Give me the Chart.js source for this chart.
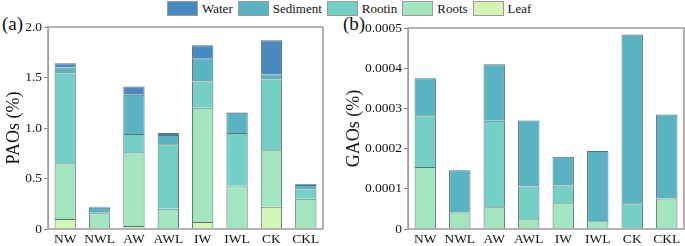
<!DOCTYPE html>
<html>
<head>
<meta charset="utf-8">
<script src="https://cdn.jsdelivr.net/npm/chart.js@4"></script>
<style>
  body { margin: 0; background: #fff; width: 685px; height: 246px; position: relative; overflow: hidden; font-family: "Liberation Serif", "Times New Roman", serif; }
  .panel { position: absolute; top: 0; }
  .tag { position: absolute; top: 14px; font-size: 19px; line-height: 19px; color: #111; }
  #legend { position: absolute; top: 1px; left: 167px; display: flex; align-items: center; font-size: 13px; color: #111; }
  #legend span.box { display: inline-block; width: 29px; height: 13px; border: 0.5px solid #999; margin-right: 4px; }
  #legend span.lab { margin-right: 5px; line-height: 14px; }
</style>
</head>
<body>
<div id="legend"></div>
<div class="tag" style="left:2px">(a)</div>
<div class="tag" style="left:343px">(b)</div>
<canvas id="left" class="panel" style="left:0" width="340" height="246"></canvas>
<canvas id="right" class="panel" style="left:340px" width="345" height="246"></canvas>
<script>
var categories = ['NW', 'NWL', 'AW', 'AWL', 'IW', 'IWL', 'CK', 'CKL'];

// PAOs (%) per compartment, bottom to top
var paoLeaf     = [0.10, 0.005, 0.03, 0.01, 0.07, 0.01, 0.22, 0.01];
var paoRoots    = [0.55, 0.15, 0.73, 0.19, 1.13, 0.42, 0.56, 0.29];
var paoRootin   = [0.89, 0.005, 0.18, 0.64, 0.26, 0.52, 0.70, 0.09];
var paoSediment = [0.06, 0.05, 0.39, 0.09, 0.23, 0.20, 0.05, 0.045];
var paoWater    = [0.04, 0.01, 0.08, 0.02, 0.13, 0.005, 0.34, 0.01];

// GAOs (%)
var gaoRoots    = [0.000154, 0.000041, 0.000054, 0.000024, 0.000064, 0.000019, 0, 0.000076];
var gaoRootin   = [0.000129, 0, 0.000215, 0.000082, 0.000044, 0, 0.000064, 0];
var gaoSediment = [0.000092, 0.000105, 0.000141, 0.000164, 0.000072, 0.000175, 0.000420, 0.000209];

var paoTicks = [0, 0.5, 1.0, 1.5, 2.0];
var gaoTicks = [0, 0.0001, 0.0002, 0.0003, 0.0004, 0.0005];

var legendNames = ['Water', 'Sediment', 'Rootin', 'Roots', 'Leaf'];
var colors = {
  Water: '#4889bf',
  Sediment: '#5ab3c3',
  Rootin: '#74d0c4',
  Roots: '#a3e5bf',
  Leaf: '#d4f4b4'
};

var serif = "'Liberation Serif', 'Times New Roman', serif";

// html legend
var leg = document.getElementById('legend');
legendNames.forEach(function(n) {
  var b = document.createElement('span');
  b.className = 'box';
  b.style.background = colors[n];
  var t = document.createElement('span');
  t.className = 'lab';
  t.textContent = n;
  leg.appendChild(b);
  leg.appendChild(t);
});

var frame = {
  id: 'frame',
  afterDraw: function(chart) {
    var a = chart.chartArea, c = chart.ctx;
    c.save();
    c.strokeStyle = '#9a9a9a';
    c.lineWidth = 1.5;
    c.strokeRect(a.left, a.top, a.right - a.left, a.bottom - a.top);
    c.restore();
  }
};

function ds(label, data) {
  return {
    label: label,
    data: data,
    backgroundColor: colors[label],
    borderColor: 'rgba(45,80,85,0.8)',
    borderWidth: 1,
    barPercentage: 0.62,
    categoryPercentage: 1.0
  };
}

function makeChart(id, datasets, ticks, fmt, title, yWidth, pad) {
  return new Chart(document.getElementById(id), {
    type: 'bar',
    data: { labels: categories, datasets: datasets },
    options: {
      responsive: false,
      animation: false,
      layout: { padding: pad },
      plugins: { legend: { display: false }, tooltip: { enabled: false } },
      scales: {
        x: {
          stacked: true,
          grid: { display: false, drawTicks: false },
          border: { display: false },
          ticks: { color: '#111', font: { family: serif, size: 13.5 }, padding: 2, maxRotation: 0 },
          afterFit: function(s) { s.height = 17; }
        },
        y: {
          stacked: true,
          min: ticks[0],
          max: ticks[ticks.length - 1],
          grid: { drawOnChartArea: false, tickLength: 4, color: '#888' },
          border: { color: '#9a9a9a' },
          ticks: {
            color: '#111',
            font: { family: serif, size: 13.5 },
            padding: 2,
            callback: fmt
          },
          afterBuildTicks: function(s) { s.ticks = ticks.map(function(v) { return { value: v }; }); },
          title: {
            display: true,
            text: title,
            color: '#111',
            font: { family: serif, size: 18 },
            padding: { top: 3, bottom: 0 }
          },
          afterFit: function(s) { s.width = yWidth; }
        }
      }
    },
    plugins: [frame]
  });
}

makeChart('left', [
  ds('Leaf', paoLeaf),
  ds('Roots', paoRoots),
  ds('Rootin', paoRootin),
  ds('Sediment', paoSediment),
  ds('Water', paoWater)
], paoTicks, function(v) { return v === 0 ? '0' : v.toFixed(1); }, 'PAOs (%)', 48,
  { top: 27, right: 17, left: 0, bottom: 0 });

makeChart('right', [
  ds('Roots', gaoRoots),
  ds('Rootin', gaoRootin),
  ds('Sediment', gaoSediment)
], gaoTicks, function(v) { return v === 0 ? '0' : v.toFixed(4); }, 'GAOs (%)', 68,
  { top: 28, right: 1, left: 0, bottom: 0 });
</script>
</body>
</html>
